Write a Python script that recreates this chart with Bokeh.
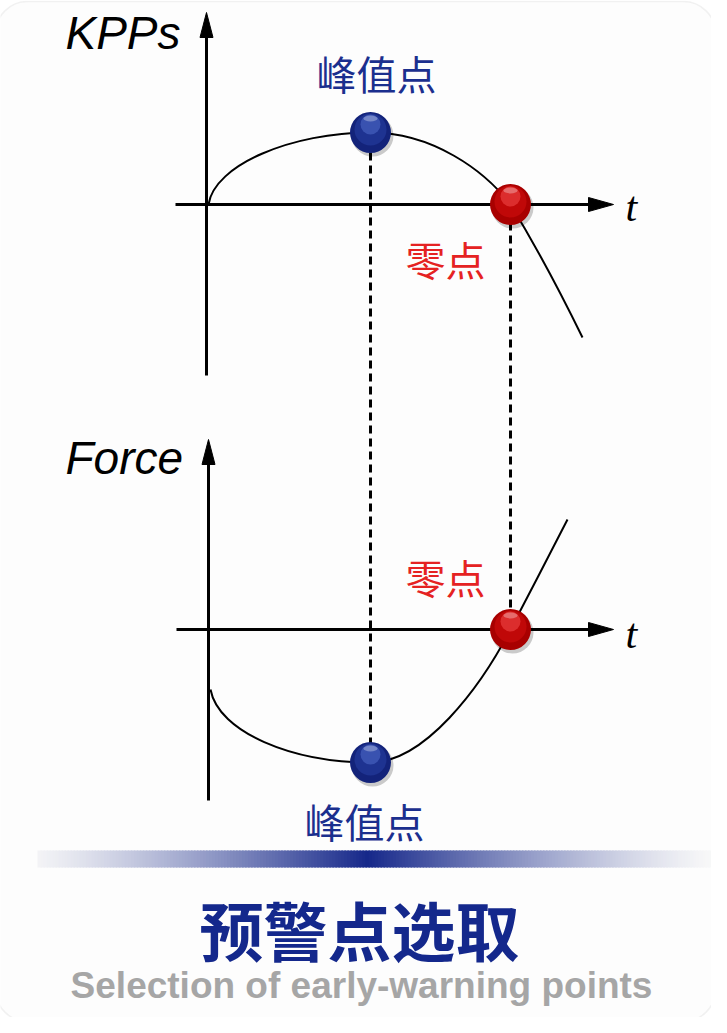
import numpy as np
from bokeh.plotting import figure
from bokeh.models import Range1d, BoxAnnotation
from bokeh.core.properties import value
from bokeh.embed import file_html
from bokeh.resources import INLINE

# ---------------- diagram data (pixel-like units, y grows downward) ----------------
panel_labels = ["KPPs", "Force"]
label_x = [73, 73]
label_y = [40, 465]

axis_x = [214, 216]          # vertical axis position
axis_y = [212, 637]          # horizontal (t) axis position
yaxis_bottom = [383, 808]
yaxis_top = [20, 447]
xaxis_left = [183, 184]
xaxis_right = [621, 621]
t_label_x = [633, 633]
t_label_y = [214, 641]

# KPPs curve as cubic Bezier segments
kpps_x0 = [216, 378, 518]
kpps_y0 = [212, 140, 212]
kpps_x1 = [378, 518, 590]
kpps_y1 = [140, 212, 345]
kpps_cx0 = [222, 440, 540]
kpps_cy0 = [172, 140, 248]
kpps_cx1 = [300, 492, 568]
kpps_cy1 = [140, 178, 300]

# Force curve as cubic Bezier segments
force_x0 = [218, 378, 518]
force_y0 = [697, 770, 637]
force_x1 = [378, 518, 575]
force_y1 = [770, 637, 527]
force_cx0 = [226, 432, 536]
force_cy0 = [740, 770, 603]
force_cx1 = [300, 488, 558]
force_cy1 = [770, 695, 560]

# characteristic points
peak_x = [378, 378]
peak_y = [140, 770]
zero_x = [518, 518]
zero_y = [212, 637]

# dashed guide lines
guide_x = [378, 518]
guide_top = [160, 230]
guide_bottom = [752, 618]

# annotations
peak_label_x = [384, 372]
peak_label_y = [80, 828]
zero_label_x = [453, 453]
zero_label_y = [266, 584]

title_cn = "预警点选取"
title_en = "Selection of early-warning points"

BLUE = "#1b2f8e"
RED = "#e52222"

# ---------------- figure ----------------
W, H = 711, 1017
p = figure(width=W, height=H, output_backend="svg", toolbar_location=None,
           x_range=Range1d(8, 8 + W), y_range=Range1d(8 + H, 8),
           min_border=0, background_fill_color="#ffffff",
           border_fill_color="#ffffff", outline_line_color=None)
p.axis.visible = False
p.grid.visible = False

card = BoxAnnotation(left=3, right=723, top=9, bottom=1029, border_radius=32,
                     fill_color="#f9f9f9", line_color="#d4d4d4", line_width=1.5,
                     level="underlay")
p.add_layout(card)

# gradient band (opaque colours blended on the card colour, overlapping strips)
edges = np.linspace(45, 722, 226)
mid = 0.5 * (edges[:-1] + edges[1:])
center = 375.0
a = np.clip(1 - np.abs(mid - center) / 350.0, 0, 1) ** 1.3
base = np.array([0xf9, 0xf9, 0xf9], float)
dark = np.array([0x16, 0x28, 0x8a], float)
cols = ["#%02x%02x%02x" % tuple(int(round(c)) for c in (base * (1 - ai) + dark * ai)) for ai in a]
p.quad(left=edges[:-1], right=edges[1:] + 1.5, top=858, bottom=875,
       fill_color=cols, line_color=None)

# axes
for i in range(2):
    p.segment(x0=[axis_x[i]], y0=[yaxis_bottom[i]], x1=[axis_x[i]], y1=[yaxis_top[i] + 20],
              line_color="black", line_width=3)
    p.segment(x0=[xaxis_left[i]], y0=[axis_y[i]], x1=[xaxis_right[i] - 20], y1=[axis_y[i]],
              line_color="black", line_width=3)
    # arrow heads
    p.patch(x=[axis_x[i], axis_x[i] - 6.5, axis_x[i] + 6.5],
            y=[yaxis_top[i], yaxis_top[i] + 25, yaxis_top[i] + 25],
            fill_color="black", line_color="black")
    p.patch(x=[xaxis_right[i], xaxis_right[i] - 25, xaxis_right[i] - 25],
            y=[axis_y[i], axis_y[i] - 7, axis_y[i] + 7],
            fill_color="black", line_color="black")

# dashed guides
p.segment(x0=guide_x, y0=guide_top, x1=guide_x, y1=guide_bottom,
          line_color="black", line_width=3, line_dash="8 5")

# curves
p.bezier(x0=kpps_x0, y0=kpps_y0, x1=kpps_x1, y1=kpps_y1,
         cx0=kpps_cx0, cy0=kpps_cy0, cx1=kpps_cx1, cy1=kpps_cy1,
         line_color="black", line_width=2)
p.bezier(x0=force_x0, y0=force_y0, x1=force_x1, y1=force_y1,
         cx0=force_cx0, cy0=force_cy0, cx1=force_cx1, cy1=force_cy1,
         line_color="black", line_width=2)

# 3D-looking balls
def ball(xs, ys, dark_c, mid_c, light):
    xs = np.asarray(xs, float)
    ys = np.asarray(ys, float)
    p.circle(x=xs + 2, y=ys + 3, radius=21, fill_color="black", fill_alpha=0.2, line_color=None)
    p.circle(x=xs, y=ys, radius=20.5, fill_color=dark_c, line_color=None)
    p.circle(x=xs, y=ys - 3, radius=16, fill_color=mid_c, fill_alpha=0.5, line_color=None)
    p.circle(x=xs, y=ys - 8, radius=10, fill_color=light, fill_alpha=0.45, line_color=None)
    p.ellipse(x=xs, y=ys - 14, width=14, height=6, fill_color="white", fill_alpha=0.3, line_color=None)

ball(peak_x, peak_y, "#13237a", "#2a44a8", "#5a78d8")
ball(zero_x, zero_y, "#a80000", "#d80f0f", "#ff5a5a")

# texts
p.text(x=label_x, y=label_y, text=panel_labels, text_font=value("Liberation Sans"),
       text_font_style="italic", text_font_size=value("46px"), text_color="black",
       text_align="left", text_baseline="middle")
p.text(x=t_label_x, y=t_label_y, text=["t", "t"], text_font=value("Liberation Serif"),
       text_font_style="italic", text_font_size=value("42px"), text_color="black",
       text_align="left", text_baseline="middle")
p.text(x=peak_label_x, y=peak_label_y, text=["峰值点", "峰值点"],
       text_font=value("Noto Sans CJK SC"), text_font_size=value("40px"),
       text_color=BLUE, text_align="center", text_baseline="middle")
p.text(x=zero_label_x, y=zero_label_y, text=["零点", "零点"],
       text_font=value("Noto Sans CJK SC"), text_font_size=value("40px"),
       text_color=RED, text_align="center", text_baseline="middle")
p.text(x=[367], y=[935], text=[title_cn], text_font=value("Noto Sans CJK SC"),
       text_font_style="bold", text_font_size=value("64px"), text_color="#14288c",
       text_align="center", text_baseline="middle")
p.text(x=[369], y=[993], text=[title_en], text_font=value("Liberation Sans"),
       text_font_style="bold", text_font_size=value("37px"), text_color="#a6a6a6",
       text_align="center", text_baseline="middle")

open("out.html", "w").write(file_html(p, INLINE))
